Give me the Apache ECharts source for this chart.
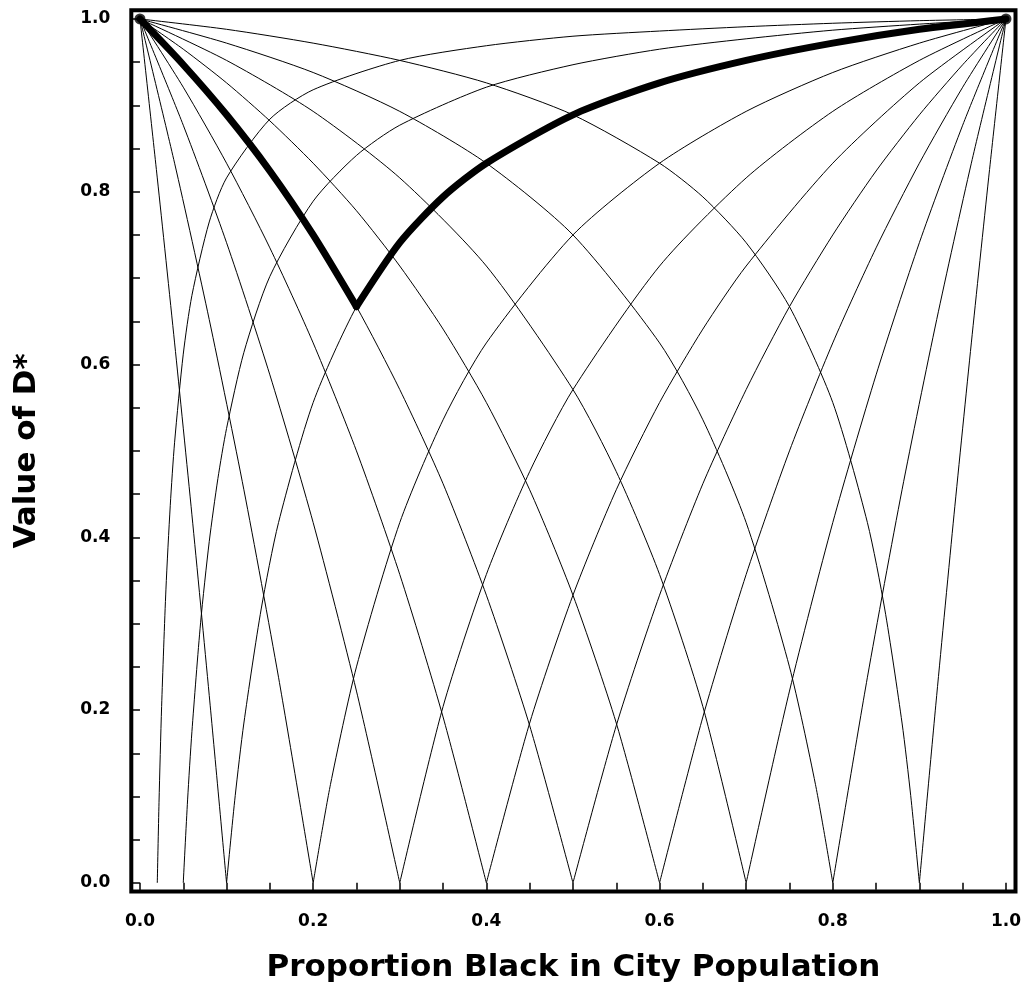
<!DOCTYPE html>
<html>
<head>
<meta charset="utf-8">
<script src="https://cdn.jsdelivr.net/npm/echarts@6/dist/echarts.min.js"></script>
<style>html,body{margin:0;padding:0;background:#fff}#c{width:1026px;height:989px}</style>
</head>
<body>
<div id="c"></div>
<script>
// Tick positions and labels
const xMajorTicks = [0, 0.1, 0.2, 0.3, 0.4, 0.5, 0.6, 0.7, 0.8, 0.9, 1];
const xMinorTicks = [0.05, 0.15, 0.25, 0.35, 0.45, 0.55, 0.65, 0.75, 0.85, 0.95];
const xLabelValues = [0, 0.2, 0.4, 0.6, 0.8, 1];
const yMajorTicks = [0, 0.1, 0.2, 0.3, 0.4, 0.5, 0.6, 0.7, 0.8, 0.9, 1];
const yMinorTicks = [0.05, 0.15, 0.25, 0.35, 0.45, 0.55, 0.65, 0.75, 0.85, 0.95];
const yLabelValues = [0, 0.2, 0.4, 0.6, 0.8, 1];

// Thin curves [proportion black, D*]
const curveQ02 = [[0.02,0],[0.022,0.093],[0.025,0.204],[0.03,0.340],[0.035,0.437],[0.04,0.510],[0.05,0.612],[0.06,0.680],[0.08,0.765],[0.1,0.816],[0.15,0.884],[0.2,0.918],[0.3,0.952],[0.4,0.969],[0.5,0.980],[0.6,0.986],[0.7,0.991],[0.8,0.995],[0.9,0.998],[1,1]];
const curveQ05 = [[0.05,0],[0.055,0.096],[0.06,0.175],[0.07,0.301],[0.08,0.395],[0.09,0.468],[0.1,0.526],[0.12,0.614],[0.15,0.702],[0.2,0.789],[0.25,0.842],[0.3,0.877],[0.4,0.921],[0.5,0.947],[0.6,0.965],[0.7,0.977],[0.8,0.987],[0.9,0.994],[1,1]];
const curveQ10 = [[0,1],[0.02,0.816],[0.04,0.625],[0.06,0.426],[0.08,0.217],[0.1,0],[0.11,0.101],[0.12,0.185],[0.14,0.317],[0.16,0.417],[0.2,0.556],[0.25,0.667],[0.3,0.741],[0.35,0.794],[0.4,0.833],[0.5,0.889],[0.6,0.926],[0.7,0.952],[0.8,0.972],[0.9,0.988],[1,1]];
const curveQ20 = [[0,1],[0.04,0.833],[0.08,0.652],[0.12,0.455],[0.16,0.238],[0.2,0],[0.22,0.114],[0.25,0.25],[0.3,0.417],[0.35,0.536],[0.4,0.625],[0.5,0.75],[0.6,0.833],[0.7,0.893],[0.8,0.938],[0.9,0.972],[1,1]];
const curveQ30 = [[0,1],[0.05,0.877],[0.1,0.741],[0.15,0.588],[0.2,0.417],[0.25,0.222],[0.3,0],[0.35,0.204],[0.4,0.357],[0.45,0.476],[0.5,0.571],[0.6,0.714],[0.7,0.816],[0.8,0.893],[0.9,0.952],[1,1]];
const curveQ40 = [[0,1],[0.05,0.921],[0.1,0.833],[0.15,0.735],[0.2,0.625],[0.25,0.5],[0.3,0.357],[0.35,0.192],[0.4,0],[0.45,0.185],[0.5,0.333],[0.55,0.455],[0.6,0.556],[0.65,0.641],[0.7,0.714],[0.8,0.833],[0.9,0.926],[1,1]];
const curveQ50 = [[0,1],[0.05,0.947],[0.1,0.889],[0.15,0.824],[0.2,0.75],[0.25,0.667],[0.3,0.571],[0.35,0.462],[0.4,0.333],[0.45,0.182],[0.5,0],[0.55,0.182],[0.6,0.333],[0.65,0.462],[0.7,0.571],[0.75,0.667],[0.8,0.75],[0.85,0.824],[0.9,0.889],[0.95,0.947],[1,1]];
const curveQ60 = [[0,1],[0.05,0.965],[0.1,0.926],[0.15,0.882],[0.2,0.833],[0.25,0.778],[0.3,0.714],[0.35,0.641],[0.4,0.556],[0.45,0.455],[0.5,0.333],[0.55,0.185],[0.6,0],[0.65,0.192],[0.7,0.357],[0.75,0.5],[0.8,0.625],[0.85,0.735],[0.9,0.833],[0.95,0.921],[1,1]];
const curveQ70 = [[0,1],[0.1,0.952],[0.2,0.893],[0.3,0.816],[0.4,0.714],[0.5,0.571],[0.55,0.476],[0.6,0.357],[0.65,0.204],[0.7,0],[0.75,0.222],[0.8,0.417],[0.85,0.588],[0.9,0.741],[0.95,0.877],[1,1]];
const curveQ80 = [[0,1],[0.1,0.972],[0.2,0.938],[0.3,0.893],[0.4,0.833],[0.5,0.75],[0.6,0.625],[0.65,0.536],[0.7,0.417],[0.75,0.25],[0.78,0.114],[0.8,0],[0.84,0.238],[0.88,0.455],[0.92,0.652],[0.96,0.833],[1,1]];
const curveQ90 = [[0,1],[0.1,0.988],[0.2,0.972],[0.3,0.952],[0.4,0.926],[0.5,0.889],[0.6,0.833],[0.65,0.794],[0.7,0.741],[0.75,0.667],[0.8,0.556],[0.84,0.417],[0.86,0.317],[0.88,0.185],[0.89,0.101],[0.9,0],[0.92,0.217],[0.94,0.426],[0.96,0.625],[0.98,0.816],[1,1]];

// Thick curve
const thickCurve = [[0,1],[0.05,0.947],[0.1,0.889],[0.15,0.824],[0.2,0.75],[0.25,0.667],[0.3,0.741],[0.35,0.794],[0.4,0.833],[0.5,0.889],[0.6,0.926],[0.7,0.952],[0.8,0.972],[0.9,0.988],[1,1]];

const thinCurves = [curveQ02, curveQ05, curveQ10, curveQ20, curveQ30, curveQ40, curveQ50, curveQ60, curveQ70, curveQ80, curveQ90];

function splitAtMin(arr) {
  let idx = 0;
  for (let i = 1; i < arr.length; i++) if (arr[i][1] < arr[idx][1]) idx = i;
  const parts = [];
  if (idx > 0) parts.push(arr.slice(0, idx + 1));
  if (idx < arr.length - 1) parts.push(arr.slice(idx));
  return parts;
}

const series = [];
thinCurves.forEach(c => {
  splitAtMin(c).forEach(part => {
    series.push({
      type: 'line', data: part, showSymbol: false, smooth: 0.25,
      lineStyle: { color: '#000', width: 1 }, silent: true, z: 2
    });
  });
});
splitAtMin(thickCurve).forEach(part => {
  series.push({
    type: 'line', data: part, showSymbol: false, smooth: 0.25,
    lineStyle: { color: '#000', width: 7, cap: 'round', join: 'round' }, silent: true, z: 3
  });
});
series.push({
  type: 'scatter', data: [thickCurve[0], thickCurve[thickCurve.length - 1]],
  symbol: 'circle', symbolSize: 11, itemStyle: { color: '#000' }, silent: true, z: 4
});

const labelFont = { color: '#000', fontFamily: 'DejaVu Sans', fontWeight: 'bold', fontSize: 17 };
const nameFont = { color: '#000', fontFamily: 'DejaVu Sans', fontWeight: 'bold', fontSize: 31 };
const tickStyle = { color: '#000', width: 1.5 };

const chart = echarts.init(document.getElementById('c'), null, { renderer: 'canvas' });
chart.setOption({
  animation: false,
  backgroundColor: '#fff',
  grid: {
    left: 131.3, top: 10.3, width: 884.2, height: 881.2,
    show: true, borderColor: '#000', borderWidth: 4, backgroundColor: 'transparent',
    containLabel: false, outerBoundsMode: 'none'
  },
  xAxis: [
    {
      type: 'value', min: -0.01, max: 1.011, position: 'bottom', offset: 4.5,
      axisLine: { show: false }, splitLine: { show: false },
      axisTick: { show: true, customValues: xMajorTicks, length: 10, lineStyle: tickStyle },
      axisLabel: Object.assign({ customValues: xLabelValues, margin: 17, formatter: v => v.toFixed(1) }, labelFont),
      name: 'Proportion Black in City Population', nameLocation: 'middle', nameGap: 56,
      nameTextStyle: nameFont
    },
    {
      type: 'value', min: -0.01, max: 1.011, position: 'bottom', offset: 4.5,
      axisLine: { show: false }, splitLine: { show: false },
      axisTick: { show: true, customValues: xMinorTicks, length: 7, lineStyle: tickStyle },
      axisLabel: { show: false }
    }
  ],
  yAxis: [
    {
      type: 'value', min: -0.01, max: 1.01, position: 'left', offset: 3,
      axisLine: { show: false }, splitLine: { show: false },
      axisTick: { show: true, customValues: yMajorTicks, length: 10, lineStyle: tickStyle },
      axisLabel: Object.assign({ customValues: yLabelValues, margin: 18, formatter: v => v.toFixed(1) }, labelFont),
      name: 'Value of D*', nameLocation: 'middle', nameGap: 86,
      nameTextStyle: nameFont
    },
    {
      type: 'value', min: -0.01, max: 1.01, position: 'left', offset: 3,
      axisLine: { show: false }, splitLine: { show: false },
      axisTick: { show: true, customValues: yMinorTicks, length: 7, lineStyle: tickStyle },
      axisLabel: { show: false }
    }
  ],
  series: series
});
</script>
</body>
</html>
